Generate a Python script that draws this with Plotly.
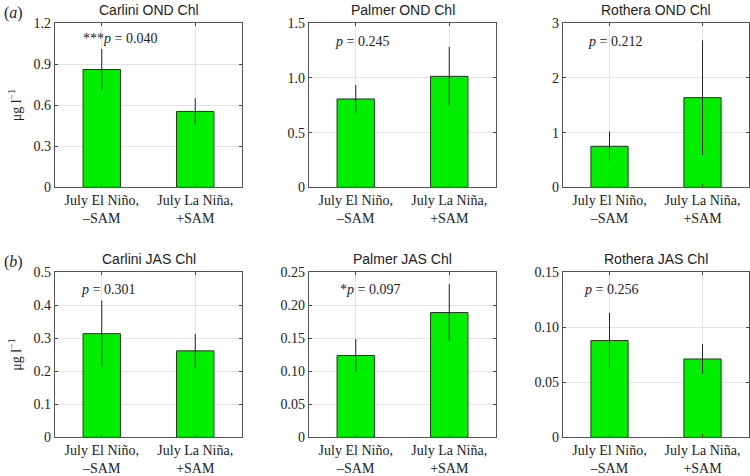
import plotly.graph_objects as go

categories = ["July El Niño,<br>–SAM", "July La Niña,<br>+SAM"]
panel_titles = ["Carlini OND Chl", "Palmer OND Chl", "Rothera OND Chl",
                "Carlini JAS Chl", "Palmer JAS Chl", "Rothera JAS Chl"]
carlini_ond = [0.862, 0.555]
carlini_ond_err = [0.150, 0.097]
palmer_ond = [0.808, 1.015]
palmer_ond_err = [0.128, 0.270]
rothera_ond = [0.75, 1.64]
rothera_ond_err = [0.27, 1.05]
carlini_jas = [0.314, 0.262]
carlini_jas_err = [0.100, 0.051]
palmer_jas = [0.124, 0.189]
palmer_jas_err = [0.025, 0.043]
rothera_jas = [0.088, 0.0712]
rothera_jas_err = [0.025, 0.0135]
p_labels = ["***<i>p</i> = 0.040", "<i>p</i> = 0.245", "<i>p</i> = 0.212",
            "<i>p</i> = 0.301", "*<i>p</i> = 0.097", "<i>p</i> = 0.256"]
y_ranges = [[0, 1.2], [0, 1.5], [0, 3], [0, 0.5], [0, 0.25], [0, 0.15]]
y_ticks = [[0, 0.3, 0.6, 0.9, 1.2], [0, 0.5, 1.0, 1.5], [0, 1, 2, 3],
           [0, 0.1, 0.2, 0.3, 0.4, 0.5], [0, 0.05, 0.10, 0.15, 0.20, 0.25],
           [0, 0.05, 0.10, 0.15]]
y_ticktext = [["0", "0.3", "0.6", "0.9", "1.2"], ["0", "0.5", "1.0", "1.5"],
              ["0", "1", "2", "3"], ["0", "0.1", "0.2", "0.3", "0.4", "0.5"],
              ["0", "0.05", "0.10", "0.15", "0.20", "0.25"],
              ["0", "0.05", "0.10", "0.15"]]

values = [carlini_ond, palmer_ond, rothera_ond, carlini_jas, palmer_jas, rothera_jas]
errors = [carlini_ond_err, palmer_ond_err, rothera_ond_err,
          carlini_jas_err, palmer_jas_err, rothera_jas_err]

W, H = 750, 476
x_px = [(55, 242), (309, 496), (563, 749)]
y_px = [(23.3, 187.3), (272.3, 437.3)]
p_x = [0.14, 0.128, 0.123, 0.128, 0.155, 0.10]
p_y = [0.91, 0.89, 0.89, 0.893, 0.893, 0.893]

SERIF = "Liberation Serif"
SANS = "Liberation Sans"
fig = go.Figure()
layout = dict(width=W, height=H, margin=dict(l=0, r=0, t=0, b=0, autoexpand=False),
              paper_bgcolor="white", plot_bgcolor="white", showlegend=False)
annotations = []
xpos = [1, 2]
for i in range(6):
    r, c = divmod(i, 3)
    n = "" if i == 0 else str(i + 1)
    xa, ya = "x" + n, "y" + n
    fig.add_trace(go.Bar(
        x=xpos, y=values[i], width=0.4, xaxis=xa, yaxis=ya,
        marker=dict(color="#00ee00", line=dict(color="#1a3a1a", width=1)),
        error_y=dict(type="data", array=errors[i], visible=True,
                     color="#222222", thickness=1, width=0),
    ))
    common = dict(showline=True, linecolor="#555555", linewidth=1.3, mirror="ticks",
                  ticks="inside", ticklen=3, tickcolor="#444444", automargin=False,
                  showgrid=True, gridcolor="#e3e3e3", gridwidth=1,
                  zeroline=False, tickfont=dict(family=SERIF, size=14, color="#222222"))
    layout["xaxis" + n] = dict(
        domain=[x_px[c][0] / W, x_px[c][1] / W], anchor=ya,
        range=[0.5, 2.5], tickvals=xpos, ticktext=categories, **common)
    layout["yaxis" + n] = dict(
        domain=[1 - y_px[r][1] / H, 1 - y_px[r][0] / H], anchor=xa,
        range=y_ranges[i], tickvals=y_ticks[i], ticktext=y_ticktext[i], **common)
    annotations.append(dict(
        text=panel_titles[i], xref=xa + " domain", yref=ya + " domain",
        x=0.5, y=1.0, yshift=3, xanchor="center", yanchor="bottom", showarrow=False,
        font=dict(family=SANS, size=14, color="#222222")))
    annotations.append(dict(
        text=p_labels[i], xref=xa + " domain", yref=ya + " domain",
        x=p_x[i], y=p_y[i], xanchor="left", yanchor="middle", showarrow=False,
        font=dict(family=SERIF, size=14, color="#222222")))

for r, lab in enumerate(["(<i>a</i>)", "(<i>b</i>)"]):
    annotations.append(dict(
        text=lab, xref="paper", yref="paper", x=2 / W,
        y=1 - (y_px[r][0] - 10) / H, xanchor="left", yanchor="middle",
        showarrow=False, font=dict(family=SERIF, size=16, color="#222222")))
    annotations.append(dict(
        text="μg l<sup>−1</sup>", xref="paper", yref="paper", x=15 / W,
        y=1 - (y_px[r][0] + y_px[r][1]) / 2 / H, xanchor="center", yanchor="middle",
        textangle=-90, showarrow=False,
        font=dict(family=SERIF, size=14, color="#222222")))

layout["annotations"] = annotations
fig.update_layout(**layout)
fig.write_html("out.html", config={"displayModeBar": False},
               post_script="document.body.style.margin='0';document.body.style.overflow='hidden';")
